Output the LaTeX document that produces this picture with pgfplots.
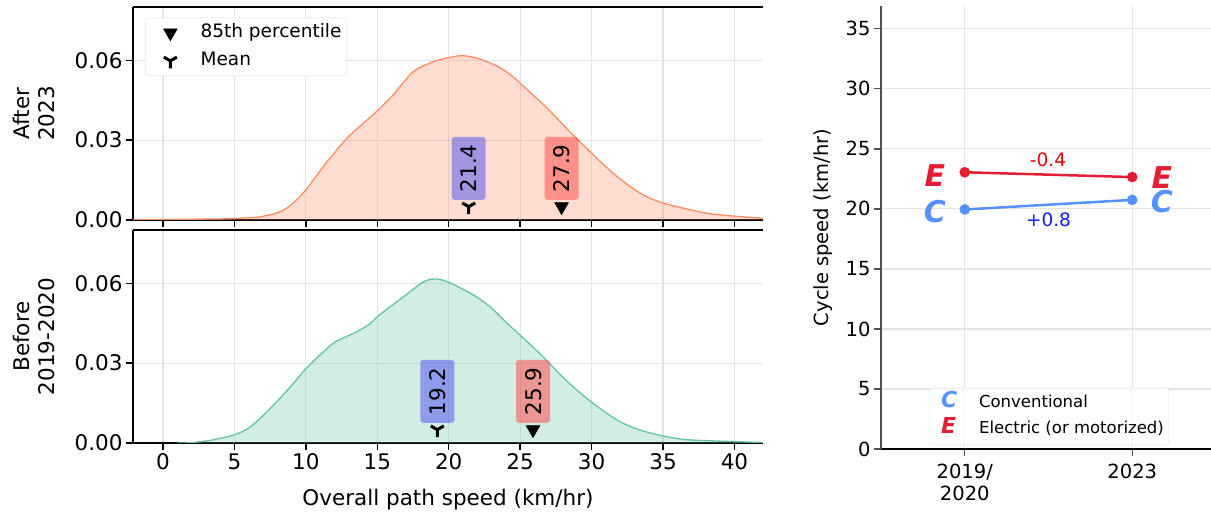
\documentclass[border=0pt]{standalone}
\usepackage{fontspec}
\setmainfont{DejaVu Sans}
\usepackage{pgfplots}
\usepackage{pgfplotstable}
\pgfplotsset{compat=1.18}

% colours
\definecolor{kdeorange}{RGB}{252,141,98}
\definecolor{kdegreen}{RGB}{102,194,165}
\definecolor{meanbox}{RGB}{90,90,240}
\definecolor{pctbox}{RGB}{255,80,80}
\definecolor{ecol}{RGB}{227,30,50}
\definecolor{ccol}{RGB}{86,146,255}
\definecolor{gridgray}{RGB}{228,228,228}
\definecolor{spinegray}{RGB}{80,80,80}

% font sizes
\newcommand\fsTick{\fontsize{21.5}{25}\selectfont}
\newcommand\fsLeg{\fontsize{18.5}{22}\selectfont}
\newcommand\fsR{\fontsize{19.5}{22}\selectfont}
\newcommand\fsRLeg{\fontsize{16.5}{20}\selectfont}
\newcommand\fsDelta{\fontsize{18.5}{22}\selectfont}
\newcommand\fsLetter{\fontsize{30}{30}\selectfont\bfseries\itshape}
\newcommand\fsLegLetter{\fontsize{22}{22}\selectfont\bfseries\itshape}

% "Y" shaped marker (mean)
\pgfdeclareplotmark{tridown}{%
  \pgfpathmoveto{\pgfqpoint{0pt}{0pt}}%
  \pgfpathlineto{\pgfqpoint{0pt}{-\pgfplotmarksize}}%
  \pgfpathmoveto{\pgfqpoint{0pt}{0pt}}%
  \pgfpathlineto{\pgfqpoint{-0.866\pgfplotmarksize}{0.5\pgfplotmarksize}}%
  \pgfpathmoveto{\pgfqpoint{0pt}{0pt}}%
  \pgfpathlineto{\pgfqpoint{0.866\pgfplotmarksize}{0.5\pgfplotmarksize}}%
  \pgfusepathqstroke}

% kernel density estimates of overall path speed
\pgfplotstableread{
x y
-2.1 0.0001
0 0.0002
2 0.0003
4 0.0004
5.5 0.0007
6.8 0.0012
8.2 0.0031
9.1 0.0063
10.0 0.0113
11.4 0.0213
12.8 0.0303
13.7 0.0348
15.0 0.0410
16.1 0.0469
17.5 0.0556
18.9 0.0594
20.0 0.0610
21.0 0.0617
22.1 0.0606
23.5 0.0575
24.5 0.0538
25.4 0.0494
26.8 0.0425
27.7 0.0375
29.2 0.0293
31.5 0.0176
33.4 0.0101
35.0 0.0064
38.0 0.0026
39.9 0.0015
42 0.0006
}\afterdata

\pgfplotstableread{
x y
1.0 0.0000
1.9 0.0001
3.3 0.0010
5.0 0.0031
6.1 0.0060
7.5 0.0129
8.9 0.0210
10.0 0.0279
11.2 0.0341
12.1 0.0381
13.5 0.0416
14.5 0.0448
15.1 0.0479
16.8 0.0548
18.2 0.0604
19.0 0.0616
19.9 0.0606
21.6 0.0560
22.8 0.0516
24.0 0.0454
25.3 0.0390
26.6 0.0324
28.2 0.0236
30.1 0.0149
32.0 0.0080
33.8 0.0042
36.2 0.0015
38.5 0.0008
42 0.0002
}\beforedata

\pgfplotsset{
  kdeaxis/.style={
    scale only axis, width=630pt, height=213pt,
    xmin=-2.1, xmax=42, ymin=0, ymax=0.08,
    axis x line*=box, axis y line*=left,
    xtick={0,5,...,40}, ytick={0,0.03,0.06}, yticklabels={0.00,0.03,0.06},
    scaled y ticks=false, scaled x ticks=false,
    xtick pos=left,
    tick align=outside, major tick length=7pt,
    every tick/.style={black, line width=1.3pt},
    grid=major, grid style={gridgray, line width=1.2pt},
    axis line style={black, line width=1.5pt},
    ticklabel style={font=\fsTick},
    /pgf/number format/assume math mode=true,
    every axis y label/.style={at={(axis description cs:-0.157,0.5)},
      anchor=center, rotate=90, align=center, font=\fsTick},
  },
}
\tikzset{
  valbox/.style={rotate=90, anchor=west, rounded corners=3pt, font=\fsTick,
    inner xsep=7.5pt, inner ysep=9pt, text height=16pt, text depth=0pt,
    fill opacity=0.55, text opacity=1},
}

\begin{document}
\begin{tikzpicture}
\useasboundingbox (0,0) rectangle (1211pt,516pt);

% ---- after (2023) ----
\begin{axis}[kdeaxis, at={(133pt,296pt)}, anchor=south west,
  xticklabels={}, ylabel={After\\2023},
  legend style={at={(axis description cs:0.019,0.95)}, anchor=north west,
    draw=black!15, rounded corners=3pt, fill=white, font=\fsLeg,
    row sep=6pt, inner ysep=4pt, nodes={text height=14pt, text depth=4pt}},
  legend cell align=left]
\addlegendimage{legend image code/.code={
  \path (0pt,0pt) (50pt,0pt);
  \fill[black] plot[mark=triangle*, mark size=8pt, mark options={rotate=180}] coordinates {(22pt,0pt)};}}
\addlegendentry{85th percentile}
\addlegendimage{legend image code/.code={
  \path (0pt,0pt) (50pt,0pt);
  \draw[black, line width=3pt] plot[mark=tridown, mark size=7.5pt] coordinates {(22pt,0pt)};}}
\addlegendentry{Mean}
\addplot[draw=none, fill=kdeorange, fill opacity=0.3, smooth, forget plot]
  table[x=x, y=y] {\afterdata} \closedcycle;
\addplot[kdeorange, line width=1.3pt, smooth, forget plot] table[x=x, y=y] {\afterdata};
\addplot[only marks, mark=tridown, mark size=7.5pt, black, line width=3pt, forget plot]
  coordinates {(21.4,0.005)};
\addplot[only marks, mark=triangle*, mark size=8pt, mark options={rotate=180}, black, forget plot]
  coordinates {(27.9,0.005)};
\node[valbox, fill=meanbox] at (axis cs:21.4,0.0075) {21.4};
\node[valbox, fill=pctbox] at (axis cs:27.9,0.0075) {27.9};
\end{axis}

% ---- before (2019-2020) ----
\begin{axis}[kdeaxis, at={(133pt,73pt)}, anchor=south west,
  ylabel={Before\\2019-2020},
  xlabel={Overall path speed (km/hr)},
  every axis x label/.style={at={(axis description cs:0.5,-0.295)}, anchor=base, font=\fsTick}]
\addplot[draw=none, fill=kdegreen, fill opacity=0.3, smooth]
  table[x=x, y=y] {\beforedata} \closedcycle;
\addplot[kdegreen, line width=1.3pt, smooth] table[x=x, y=y] {\beforedata};
\addplot[only marks, mark=tridown, mark size=7.5pt, black, line width=3pt]
  coordinates {(19.2,0.005)};
\addplot[only marks, mark=triangle*, mark size=8pt, mark options={rotate=180}, black]
  coordinates {(25.9,0.005)};
\node[valbox, fill=meanbox] at (axis cs:19.2,0.0075) {19.2};
\node[valbox, fill=pctbox] at (axis cs:25.9,0.0075) {25.9};
\end{axis}

% ---- cycle speed by period ----
\begin{axis}[scale only axis, width=330pt, height=443pt,
  at={(881pt,67pt)}, anchor=south west,
  xmin=-0.5, xmax=1.47, ymin=0, ymax=36.9,
  axis x line*=bottom, axis y line*=left,
  x axis line style={black, line width=1.3pt},
  y axis line style={spinegray, line width=1.5pt},
  xtick={0,1}, xticklabels={{2019/\\2020},{2023}},
  xticklabel style={align=center, font=\fsR, yshift=-4pt},
  ytick={0,5,...,35}, yticklabel style={font=\fsR},
  tick align=outside, major tick length=7pt,
  every tick/.style={spinegray, line width=1.3pt},
  grid=major, grid style={gridgray, line width=1.2pt},
  /pgf/number format/assume math mode=true,
  ylabel={Cycle speed (km/hr)},
  every axis y label/.style={at={(axis description cs:-0.176,0.5)},
    anchor=center, rotate=90, font=\fsR},
  legend style={at={(axis description cs:0.51,0.009)}, anchor=south,
    draw=black!12, rounded corners=3pt, fill=white, fill opacity=0.8,
    text opacity=1, font=\fsRLeg, row sep=5pt, inner ysep=5pt,
    nodes={text height=13pt, text depth=4pt}},
  legend cell align=left]
\addlegendimage{legend image code/.code={
  \path (0pt,0pt) (44pt,0pt);
  \node[text=ccol, font=\fsLegLetter, inner sep=0pt] at (8pt,0pt) {C};}}
\addlegendentry{Conventional}
\addlegendimage{legend image code/.code={
  \path (0pt,0pt) (44pt,0pt);
  \node[text=ecol, font=\fsLegLetter, inner sep=0pt] at (8pt,0pt) {E};}}
\addlegendentry{Electric (or motorized)}
\addplot[ecol, line width=2.5pt, mark=*, mark size=4pt] coordinates {(0,23.05) (1,22.65)};
\addplot[ccol, line width=2.5pt, mark=*, mark size=4pt] coordinates {(0,19.95) (1,20.75)};
\node[text=ecol, font=\fsLetter] at (axis cs:-0.178,22.75) {E};
\node[text=ecol, font=\fsLetter] at (axis cs:1.177,22.65) {E};
\node[text=ccol, font=\fsLetter] at (axis cs:-0.178,19.75) {C};
\node[text=ccol, font=\fsLetter] at (axis cs:1.177,20.6) {C};
\node[text=red!90!black, font=\fsDelta] at (axis cs:0.497,24.1) {-0.4};
\node[text=blue!90!white, font=\fsDelta] at (axis cs:0.5,19.1) {+0.8};
\end{axis}
\end{tikzpicture}
\end{document}
